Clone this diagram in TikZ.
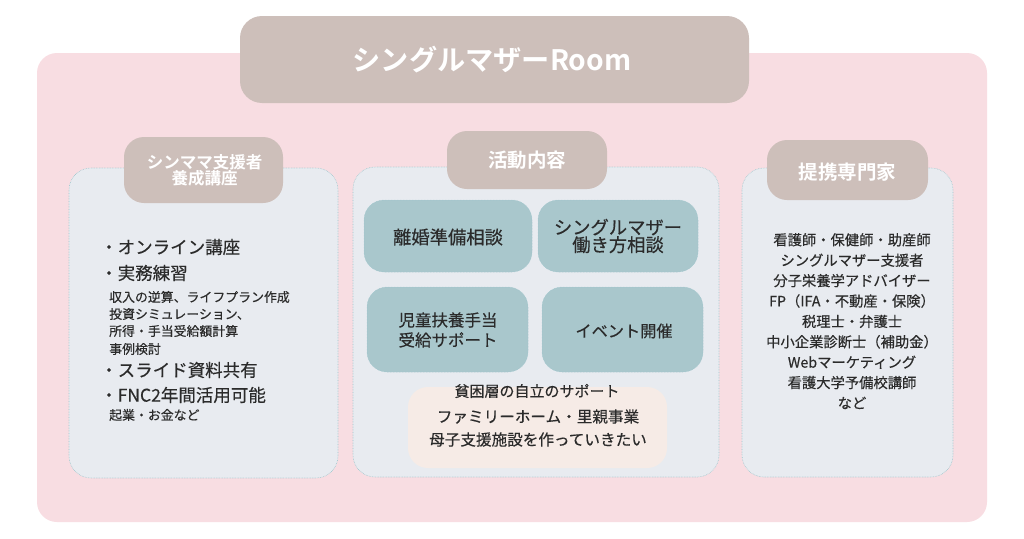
\documentclass[tikz,border=0pt]{standalone}
\usepackage{fontspec}
\setmainfont{Noto Sans CJK JP}[FakeBold=0.4,BoldFont={Noto Sans CJK JP Bold},BoldFeatures={FakeBold=0}]
\definecolor{bgpink}{HTML}{F8DDE2}
\definecolor{hdr}{HTML}{CDBFBA}
\definecolor{panel}{HTML}{E8EBF0}
\definecolor{pborder}{HTML}{9CC6CC}
\definecolor{teal}{HTML}{A9C7CC}
\definecolor{beige}{HTML}{F6EBE6}
\definecolor{txt}{HTML}{2B2B2B}
\tikzset{
  hdrbox/.style={fill=hdr, draw=none, rounded corners=22pt},
  panelbox/.style={fill=panel, draw=pborder, densely dotted, line width=0.6pt, rounded corners=22pt},
  tealbox/.style={fill=teal, draw=pborder, densely dotted, line width=0.5pt, rounded corners=20pt},
  hdrtext/.style={text=white, font=\bfseries\fontsize{19.5}{20}\selectfont, align=center},
  ttext/.style={text=txt, font=\fontsize{18.3}{19}\selectfont, align=center},
}
\begin{document}
\begin{tikzpicture}[x=1pt,y=-1pt]
\useasboundingbox (0,0) rectangle (1024,538);
\fill[white] (0,0) rectangle (1024,538);
% background
\fill[bgpink, rounded corners=20pt] (37,53) rectangle (987,522);
% title
\fill[hdrbox] (240,16) rectangle (749,103);
\node[text=white, font=\bfseries\fontsize{28.2}{30}\selectfont] (title) at (492,60) {シングルマザーRoom};

% left panel
\draw[panelbox] (69,168) rectangle (338,478);
\fill[hdrbox, rounded corners=20pt] (124,137) rectangle (283,203);
\node[hdrtext, font=\bfseries\fontsize{16.5}{16}\selectfont] (lh) at (204.5,170) {シンママ支援者\\養成講座};
\begin{scope}[every node/.style={anchor=west, text=txt, inner sep=0pt}]
\node[font=\fontsize{17.5}{18}\selectfont] (l1) at (100,247) {・オンライン講座};
\node[font=\fontsize{17.5}{18}\selectfont] (l2) at (100,273) {・実務練習};
\node[font=\fontsize{12.9}{13}\selectfont] (l3) at (109,297) {収入の逆算、ライフプラン作成};
\node[font=\fontsize{12.9}{13}\selectfont] (l4) at (109,314) {投資シミュレーション、};
\node[font=\fontsize{12.9}{13}\selectfont] (l5) at (109,331) {所得・手当受給額計算};
\node[font=\fontsize{12.9}{13}\selectfont] (l6) at (109,349) {事例検討};
\node[font=\fontsize{17.5}{18}\selectfont] (l7) at (100,370) {・スライド資料共有};
\node[font=\fontsize{17.5}{18}\selectfont] (l8) at (100,395) {・FNC2年間活用可能};
\node[font=\fontsize{12.9}{13}\selectfont] (l9) at (109,415) {起業・お金など};
\end{scope}

% middle panel
\draw[panelbox] (353,167) rectangle (719,477);
\fill[hdrbox, rounded corners=20pt] (447,131) rectangle (607,189);
\node[hdrtext] (mh) at (527,160) {活動内容};
\draw[tealbox] (364,200) rectangle (532,272);
\node[ttext] (m1) at (448,237) {離婚準備相談};
\draw[tealbox] (538,200) rectangle (698,272);
\node[ttext, font=\fontsize{18.3}{17.5}\selectfont] (m2) at (618,236) {シングルマザー\\働き方相談};
\draw[tealbox] (367,287) rectangle (528,372);
\node[ttext, font=\fontsize{16.5}{20}\selectfont] (m3) at (448,330) {児童扶養手当\\受給サポート};
\draw[tealbox] (542,287) rectangle (703,372);
\node[ttext, font=\fontsize{16.2}{17}\selectfont] (m4) at (624,331) {イベント開催};
\fill[beige, rounded corners=20pt] (408,387) rectangle (667,468);
\node[text=txt, font=\fontsize{15}{15}\selectfont] (m5) at (537,391) {貧困層の自立のサポート};
\node[ttext, font=\fontsize{15.6}{23}\selectfont] (m6) at (538,428) {ファミリーホーム・里親事業\\母子支援施設を作っていきたい};

% right panel
\draw[panelbox] (742,168) rectangle (953,477);
\fill[hdrbox, rounded corners=20pt] (767,140) rectangle (928,200);
\node[hdrtext] (rh) at (847.5,172) {提携専門家};
\node[text=txt, align=center, font=\fontsize{14.3}{20.4}\selectfont, anchor=north, inner sep=0pt] (r1) at (852,233) {看護師・保健師・助産師\\シングルマザー支援者\\分子栄養学アドバイザー\\FP（IFA・不動産・保険）\\税理士・弁護士\\中小企業診断士（補助金）\\Webマーケティング\\看護大学予備校講師\\など};
\end{tikzpicture}
\end{document}
